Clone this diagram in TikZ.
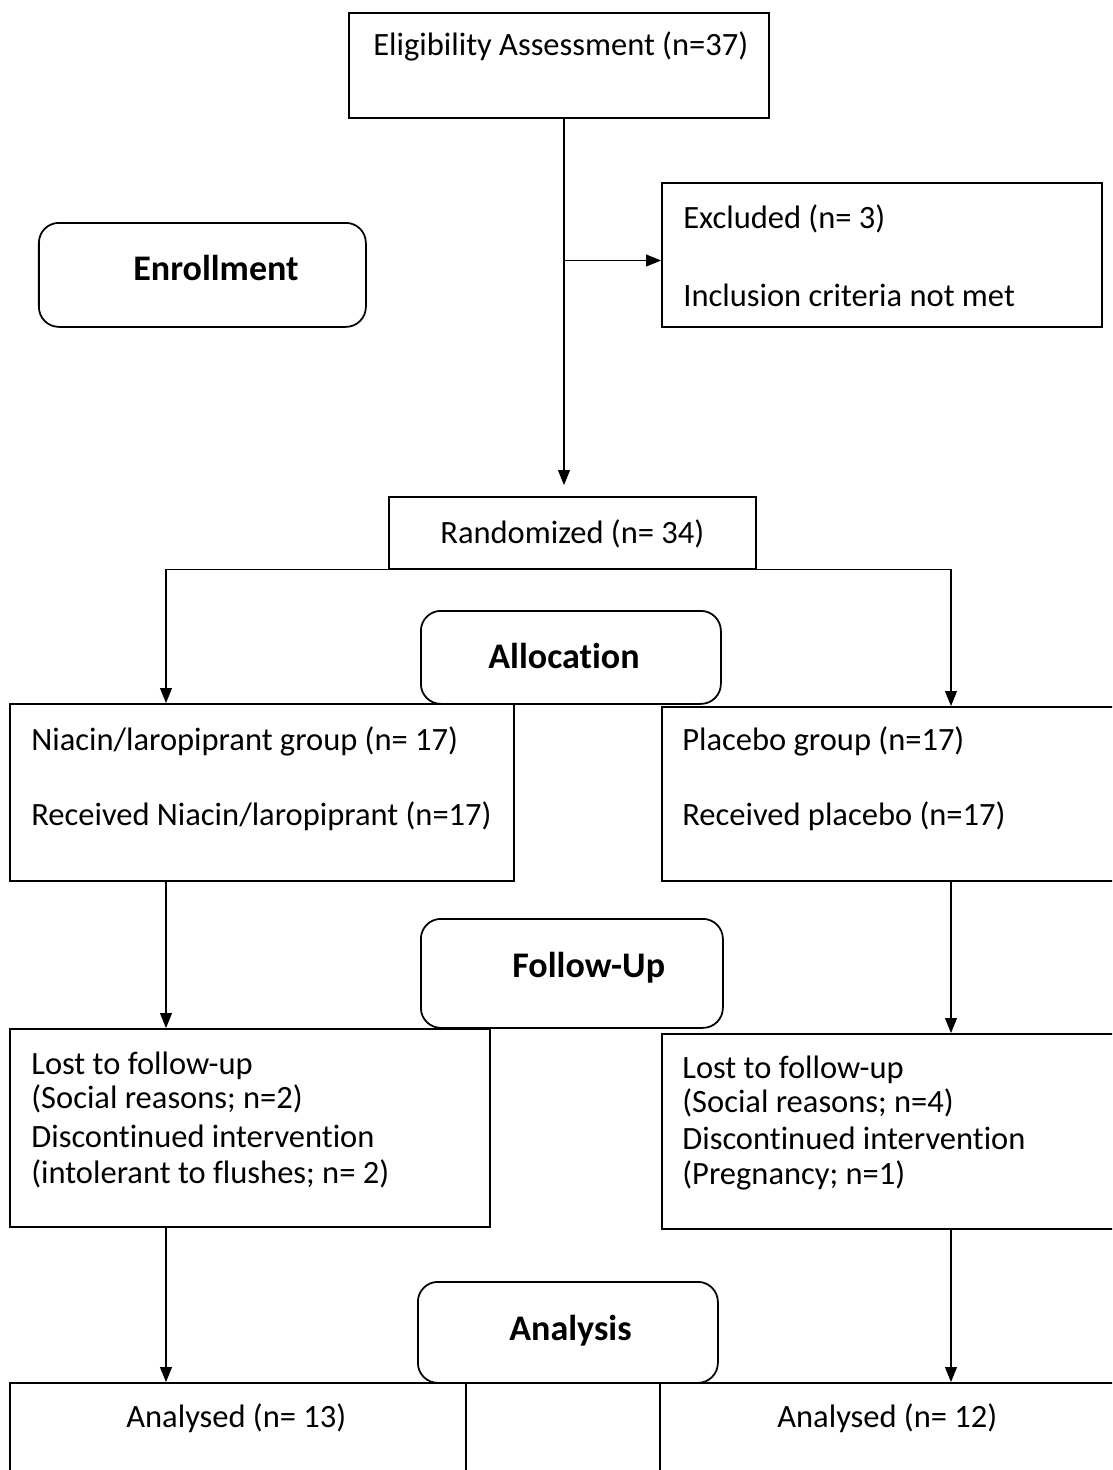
\documentclass[tikz,border=0pt]{standalone}
\usepackage{fontspec}
\setmainfont{Carlito}[Ligatures=NoCommon]
\usetikzlibrary{arrows.meta}

\tikzset{
  box/.style={draw, line width=1pt, rectangle, inner sep=0pt, anchor=north west},
  phase/.style={box, rounded corners=0.4cm},
  txt/.style={anchor=base west, inner sep=0pt, font=\fontsize{18.5}{22}\selectfont},
  head/.style={anchor=base west, inner sep=0pt, font=\fontsize{20.5}{24}\selectfont\bfseries},
  conn/.style={-{Triangle[length=0.30cm,width=0.24cm]}, line width=0.6pt}
}

\begin{document}
\begin{tikzpicture}
	\clip (0,0) rectangle (22.24,-29.4);

	% enrollment
	\node[box, minimum width=8.4cm, minimum height=2.1cm] (elig) at (6.96,-0.24) {};
	\node[txt] (eligT) at (7.46,-1.10) {Eligibility Assessment (n=37)};

	\node[phase, minimum width=6.54cm, minimum height=2.08cm] (enrol) at (0.76,-4.44) {};
	\node[head] (enrolT) at (2.66,-5.60) {Enrollment};

	\node[box, minimum width=8.8cm, minimum height=2.88cm] (excl) at (13.22,-3.64) {};
	\node[txt] (exclA) at (13.66,-4.56) {Excluded (n= 3)};
	\node[txt] (exclB) at (13.66,-6.12) {Inclusion criteria not met};

	\node[box, minimum width=7.34cm, minimum height=1.44cm] (rand) at (7.76,-9.92) {};
	\node[txt] (randT) at (8.80,-10.86) {Randomized (n= 34)};

	% allocation
	\node[phase, minimum width=6.0cm, minimum height=1.86cm] (alloc) at (8.40,-12.20) {};
	\node[head] (allocT) at (9.76,-13.36) {Allocation};

	\node[box, minimum width=10.08cm, minimum height=3.54cm] (niacin) at (0.18,-14.06) {};
	\node[txt] (niacinA) at (0.62,-15.00) {Niacin/laropiprant group (n= 17)};
	\node[txt] (niacinB) at (0.62,-16.50) {Received Niacin/laropiprant (n=17)};

	\node[box, minimum width=9.4cm, minimum height=3.48cm] (placebo) at (13.22,-14.12) {};
	\node[txt] (placeboA) at (13.64,-15.00) {Placebo group (n=17)};
	\node[txt] (placeboB) at (13.64,-16.50) {Received placebo (n=17)};

	% follow-up
	\node[phase, minimum width=6.04cm, minimum height=2.18cm] (follow) at (8.40,-18.36) {};
	\node[head] (followT) at (10.24,-19.54) {Follow-Up};

	\node[box, minimum width=9.6cm, minimum height=3.96cm] (lostL) at (0.18,-20.56) {};
	\node[txt] (lostLA) at (0.62,-21.48) {Lost to follow-up};
	\node[txt] (lostLB) at (0.62,-22.16) {(Social reasons; n=2)};
	\node[txt] (lostLC) at (0.62,-22.94) {Discontinued intervention};
	\node[txt] (lostLD) at (0.62,-23.66) {(intolerant to flushes; n= 2)};

	\node[box, minimum width=9.4cm, minimum height=3.90cm] (lostR) at (13.22,-20.66) {};
	\node[txt] (lostRA) at (13.64,-21.56) {Lost to follow-up};
	\node[txt] (lostRB) at (13.64,-22.24) {(Social reasons; n=4)};
	\node[txt] (lostRC) at (13.64,-22.98) {Discontinued intervention};
	\node[txt] (lostRD) at (13.64,-23.68) {(Pregnancy; n=1)};

	% analysis
	\node[phase, minimum width=6.0cm, minimum height=2.02cm] (analysis) at (8.34,-25.62) {};
	\node[head] (analysisT) at (10.18,-26.80) {Analysis};

	\node[box, minimum width=9.12cm, minimum height=2.6cm] (anL) at (0.18,-27.64) {};
	\node[txt] (anLT) at (2.52,-28.54) {Analysed (n= 13)};

	\node[box, minimum width=9.4cm, minimum height=2.6cm] (anR) at (13.18,-27.64) {};
	\node[txt] (anRT) at (15.54,-28.54) {Analysed (n= 12)};

	% connectors
	\coordinate (spine) at (11.28,-2.34);
	\coordinate (fork) at (11.28,-5.21);
	\coordinate (colL) at (3.32,0);
	\coordinate (colR) at (19.02,0);

	\draw[conn, shorten >=0.22cm] (spine) -- (spine |- rand.north);
	\draw[conn] (fork) -- (fork -| excl.west);

	\draw[conn] (rand.south) -| (colL |- niacin.north);
	\draw[conn] (rand.south) -| (colR |- placebo.north);

	\draw[conn] (colL |- niacin.south) -- (colL |- lostL.north);
	\draw[conn] (colR |- placebo.south) -- (colR |- lostR.north);

	\draw[conn] (colL |- lostL.south) -- (colL |- anL.north);
	\draw[conn] (colR |- lostR.south) -- (colR |- anR.north);

\end{tikzpicture}
\end{document}
